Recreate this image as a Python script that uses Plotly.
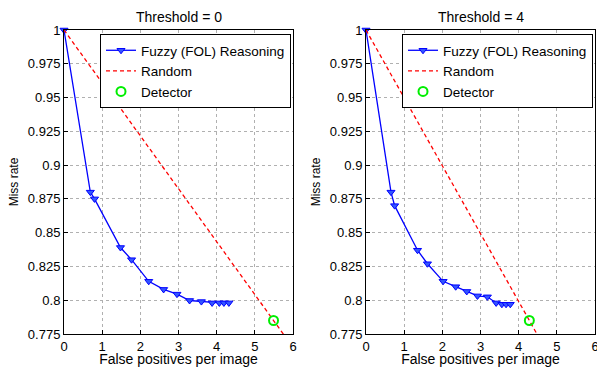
import plotly.graph_objects as go

# Threshold = 0
fuzzy0_x = [0, 0.69, 0.80, 1.48, 1.77, 2.22, 2.61, 2.96, 3.29, 3.60, 3.88, 4.07, 4.19, 4.32]
fuzzy0_y = [1.0, 0.880, 0.875, 0.839, 0.830, 0.814, 0.808, 0.8045, 0.7998, 0.799, 0.798, 0.798, 0.798, 0.798]
det0 = (5.49, 0.785)

# Threshold = 4
fuzzy4_x = [0, 0.655, 0.75, 1.35, 1.61, 2.02, 2.35, 2.64, 2.92, 3.18, 3.41, 3.56, 3.67, 3.78]
fuzzy4_y = [1.0, 0.880, 0.870, 0.837, 0.827, 0.814, 0.810, 0.8065, 0.8032, 0.8025, 0.798, 0.797, 0.797, 0.797]
det4 = (4.28, 0.785)

titles = ["Threshold = 0", "Threshold = 4"]
yticks = [0.775, 0.8, 0.825, 0.85, 0.875, 0.9, 0.925, 0.95, 0.975, 1.0]
yticklabels = ["0.775", "0.8", "0.825", "0.85", "0.875", "0.9", "0.925", "0.95", "0.975", "1"]
xticks = [0, 1, 2, 3, 4, 5, 6]

FONT = "Liberation Sans, Arial, sans-serif"
W, H = 597, 367
doms_x = [(64 / W, 293 / W), (366 / W, 595 / W)]
dom_y = (1 - 334 / H, 1 - 30 / H)

fig = go.Figure()
sets = [(fuzzy0_x, fuzzy0_y, det0), (fuzzy4_x, fuzzy4_y, det4)]
for i, (fx, fy, det) in enumerate(sets):
    xa = "x" if i == 0 else "x2"
    ya = "y" if i == 0 else "y2"
    lg = "legend" if i == 0 else "legend2"
    slope = (det[1] - 1.0) / det[0]
    rx = [0, 7]
    ry = [1.0, 1.0 + slope * 7]
    fig.add_trace(go.Scatter(x=fx, y=fy, mode="lines+markers", name="Fuzzy (FOL) Reasoning",
                             line=dict(color="#0000ff", width=1.3),
                             marker=dict(symbol="triangle-down", size=7, color="#3355ff",
                                         line=dict(color="#0000ff", width=1)),
                             cliponaxis=False, xaxis=xa, yaxis=ya, legend=lg))
    fig.add_trace(go.Scatter(x=rx, y=ry, mode="lines", name="Random",
                             line=dict(color="#ff0000", width=1.3, dash="4px,3px"),
                             xaxis=xa, yaxis=ya, legend=lg))
    fig.add_trace(go.Scatter(x=[det[0]], y=[det[1]], mode="markers", name="Detector",
                             marker=dict(symbol="circle-open", size=9, color="#00ee00",
                                         line=dict(color="#00ee00", width=2)),
                             cliponaxis=False, xaxis=xa, yaxis=ya, legend=lg))

axis_common = dict(showline=True, linecolor="black", linewidth=1, mirror=True,
                   ticks="inside", ticklen=4, tickcolor="black", automargin=False,
                   ticklabeloverflow="allow",
                   showgrid=True, gridcolor="#b0b0b0", griddash="dot", gridwidth=1,
                   zeroline=False, tickfont=dict(family=FONT, size=13, color="black"))

layout = dict(width=W, height=H, margin=dict(l=0, r=0, t=0, b=0, autoexpand=False),
              plot_bgcolor="white", paper_bgcolor="white",
              font=dict(family=FONT, size=13, color="black"))
for i in range(2):
    sx = "" if i == 0 else "2"
    layout["xaxis" + sx] = dict(axis_common, domain=doms_x[i], range=[0, 6], tickvals=xticks,
                                anchor="y" + sx,
                                title=dict(text="False positives per image", standoff=0,
                                           font=dict(family=FONT, size=14)))
    layout["yaxis" + sx] = dict(axis_common, domain=dom_y, range=[0.775, 1.0], tickvals=yticks,
                                ticktext=yticklabels, anchor="x" + sx,
                                title=dict(text="Miss rate", standoff=6,
                                           font=dict(family=FONT, size=12)))
    layout["legend" if i == 0 else "legend2"] = dict(
        x=(291 if i == 0 else 593) / W, y=1 - 34 / H, xanchor="right", yanchor="top",
        bgcolor="white", bordercolor="black", borderwidth=1, itemwidth=30,
        font=dict(family=FONT, size=13.5, color="black"), tracegroupgap=0)

fig.update_layout(**layout)
for i, t in enumerate(titles):
    cx = (doms_x[i][0] + doms_x[i][1]) / 2
    fig.add_annotation(text=t, x=cx, y=1 - 17 / H, xref="paper", yref="paper",
                       xanchor="center", yanchor="middle", showarrow=False,
                       font=dict(family=FONT, size=14, color="black"))

fig.write_html("out.html", config={"displayModeBar": False},
               post_script="document.body.style.margin='0';document.body.style.overflow='hidden';")
